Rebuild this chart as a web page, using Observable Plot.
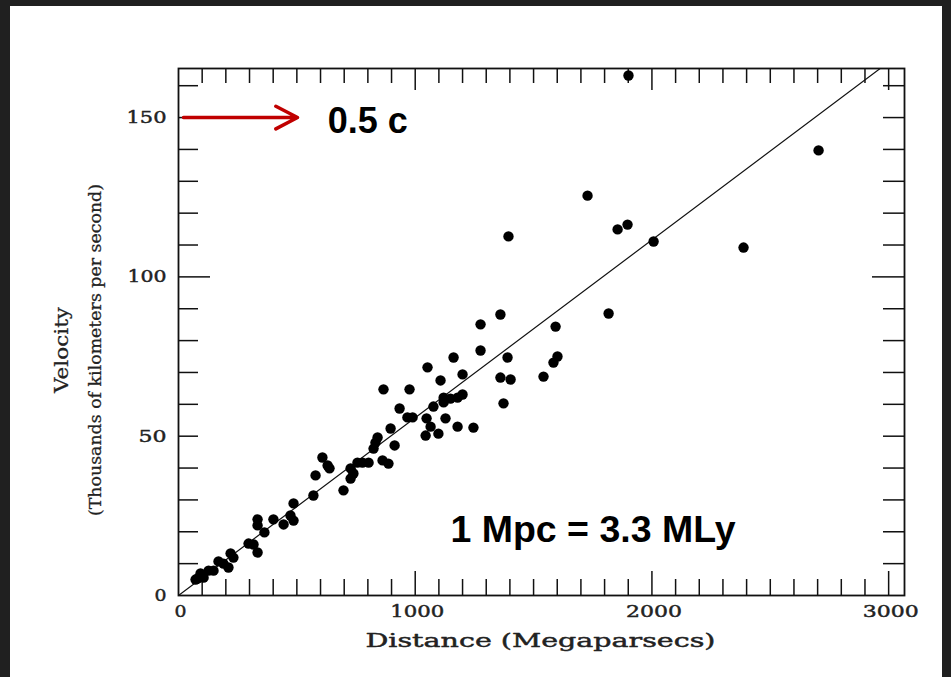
<!DOCTYPE html>
<html><head><meta charset="utf-8">
<script src="https://cdn.jsdelivr.net/npm/d3@7"></script>
<script src="https://cdn.jsdelivr.net/npm/@observablehq/plot@0.6"></script>
<style>
html,body{margin:0;padding:0;background:#202020;overflow:hidden;}
#page{position:absolute;left:10px;top:6px;width:932px;height:671px;background:#fff;}
#chart{position:absolute;left:0;top:0;}
</style></head><body><div id="page"></div><div id="chart"></div>
<script>
// Galaxies: distance (Mpc) and recession velocity (thousands of km/s)
const distance = [1901,2704,1728,1394,1855,1897,2007,2387,1817,1360,1593,1276,1276,1162,1390,1601,1584,1052,1200,1107,1360,1403,1542,976,866,1120,1149,1179,1200,1120,1077,1373,934,967,989,1048,1128,1065,1179,1246,1044,1098,896,841,832,824,913,862,887,803,777,756,727,739,727,608,630,638,579,697,570,486,473,486,444,401,334,334,363,296,317,334,220,232,169,190,211,148,127,93,80,106,72];
const velocity = [163.2,139.7,125.5,112.7,114.9,116.4,111.1,109.2,88.5,88.2,84.4,85.1,76.9,74.7,74.7,75.0,73.1,71.6,69.4,67.5,68.4,67.8,68.7,64.7,64.7,62.1,61.8,62.1,63.1,60.6,59.3,60.3,58.7,55.9,55.9,55.6,55.6,53.0,53.0,52.7,50.2,50.8,52.4,49.6,48.0,46.1,47.1,42.4,41.4,41.7,41.7,41.7,39.9,38.3,36.7,43.3,40.8,39.9,37.7,33.0,31.4,28.9,25.1,23.5,22.3,23.9,23.9,22.0,19.8,16.3,16.0,13.5,13.2,11.9,10.7,10.0,8.8,7.8,7.8,6.9,5.3,5.6,5.0];
// Hubble line (slope in thousands of km/s per Mpc)
const fitX = [0, 3000];
const fitSlope = 0.0558;
// Tick labels
const xTickLabels = [0, 1000, 2000, 3000];
const yTickLabels = [0, 50, 100, 150];
const xMinorTicks = [100,200,300,400,500,600,700,800,900,1100,1200,1300,1400,1500,1600,1700,1800,1900,2100,2200,2300,2400,2500,2600,2700,2800,2900];
const xMajorTicks = [1000, 2000, 3000];
const yMinorTicks = [10,20,30,40,50,60,70,80,90,110,120,130,140,150,160];
const yMajorTicks = [100];
// Titles
const xTitle = "Distance (Megaparsecs)";
const yTitle = "Velocity";
const ySubtitle = "(Thousands of kilometers per second)";
// Annotations
const arrowFrom = [21, 150], arrowTo = [503, 150];
const noteC = {x: 630, y: 148.8, text: "0.5 c"};
const noteMpc = {x: 1149, y: 20.4, text: "1 Mpc = 3.3 MLy"};

const points = distance.map((d, i) => ({d, v: velocity[i]}));
const fit = fitX.map(x => ({x, y: x * fitSlope}));

const W = 951, H = 677, mL = 178, mR = 47, mT = 68, mB = 82;
const FW = W - mL - mR, FH = H - mT - mB;
const ink = "#111";
const serif = "DejaVu Serif";
const sans = "Liberation Sans";
const labelText = {fill: "#222", stroke: "#222", strokeWidth: 0.45};
const titleText = {fill: "#222", stroke: "#222", strokeWidth: 0.25};

const chart = Plot.plot({
  width: W, height: H,
  marginLeft: mL, marginRight: mR, marginTop: mT, marginBottom: mB,
  x: {domain: [0, 3067], axis: null},
  y: {domain: [0, 165.4], axis: null},
  style: {background: "transparent", fontFamily: serif},
  marks: [
    // inward ticks, bottom & top
    Plot.tickX(xMinorTicks, {x: d => d, insetTop: FH - 16, stroke: ink, strokeWidth: 1.5}),
    Plot.tickX(xMajorTicks, {x: d => d, insetTop: FH - 24, stroke: ink, strokeWidth: 1.5}),
    Plot.tickX(xMinorTicks, {x: d => d, insetBottom: FH - 15, stroke: ink, strokeWidth: 1.5}),
    Plot.tickX(xMajorTicks, {x: d => d, insetBottom: FH - 22, stroke: ink, strokeWidth: 1.5}),
    // inward ticks, left & right
    Plot.tickY(yMinorTicks, {y: d => d, insetRight: FW - 20, stroke: ink, strokeWidth: 1.5}),
    Plot.tickY(yMajorTicks, {y: d => d, insetRight: FW - 32, stroke: ink, strokeWidth: 1.5}),
    Plot.tickY(yMinorTicks, {y: d => d, insetLeft: FW - 21, stroke: ink, strokeWidth: 1.5}),
    Plot.tickY(yMajorTicks, {y: d => d, insetLeft: FW - 32, stroke: ink, strokeWidth: 1.5}),
    Plot.frame({stroke: ink, strokeWidth: 1.8}),
    // tick labels
    Plot.text(xTickLabels, {x: d => d, frameAnchor: "bottom", lineAnchor: "middle", textAnchor: "middle", dx: 2, dy: 16, text: d => String(d), fontSize: 17, ...labelText}),
    Plot.text(yTickLabels, {y: d => d, frameAnchor: "left", lineAnchor: "middle", dx: -12, textAnchor: "end", text: d => String(d), fontSize: 17, ...labelText}),
    // axis titles
    Plot.text([xTitle], {frameAnchor: "bottom", lineAnchor: "middle", textAnchor: "middle", dy: 45, dx: -1, fontSize: 19, text: d => d, ...labelText}),
    Plot.text([yTitle], {frameAnchor: "left", lineAnchor: "middle", textAnchor: "middle", rotate: -90, dx: -117, dy: 18, fontSize: 19, text: d => d, ...titleText}),
    Plot.text([ySubtitle], {frameAnchor: "left", lineAnchor: "middle", textAnchor: "middle", rotate: -90, dx: -83, dy: 18, fontSize: 16, text: d => d, ...titleText}),
    // Hubble line
    Plot.line(fit, {x: "x", y: "y", stroke: ink, strokeWidth: 1.2, clip: true}),
    // galaxies
    Plot.dot(points, {x: "d", y: "v", r: 5.2, fill: "#000", stroke: "none"}),
    // annotations
    Plot.arrow([{x1: arrowFrom[0], y1: arrowFrom[1], x2: arrowTo[0], y2: arrowTo[1]}], {x1: "x1", y1: "y1", x2: "x2", y2: "y2", stroke: "#c00000", strokeWidth: 3.5, headLength: 10.5, headAngle: 55}),
    Plot.text([noteC], {x: "x", y: "y", text: "text", textAnchor: "start", fontSize: 36, fontWeight: "bold", fontFamily: sans, fill: "#000"}),
    Plot.text([noteMpc], {x: "x", y: "y", text: "text", textAnchor: "start", fontSize: 36, fontWeight: "bold", fontFamily: sans, fill: "#000"})
  ]
});
// horizontally stretched serif lettering, as in the scanned figure
const stretch = {"0": 12, "50": 28, "100": 39, "150": 40, "1000": 54, "2000": 56, "3000": 56,
  [xTitle]: 350, [yTitle]: 86, [ySubtitle]: 332, [noteMpc.text]: 285};
d3.select(chart).selectAll("text").each(function() {
  const t = this.textContent;
  if (stretch[t] !== undefined) {
    this.setAttribute("textLength", stretch[t]);
    this.setAttribute("lengthAdjust", "spacingAndGlyphs");
  }
});
document.getElementById("chart").appendChild(chart);
</script></body></html>
